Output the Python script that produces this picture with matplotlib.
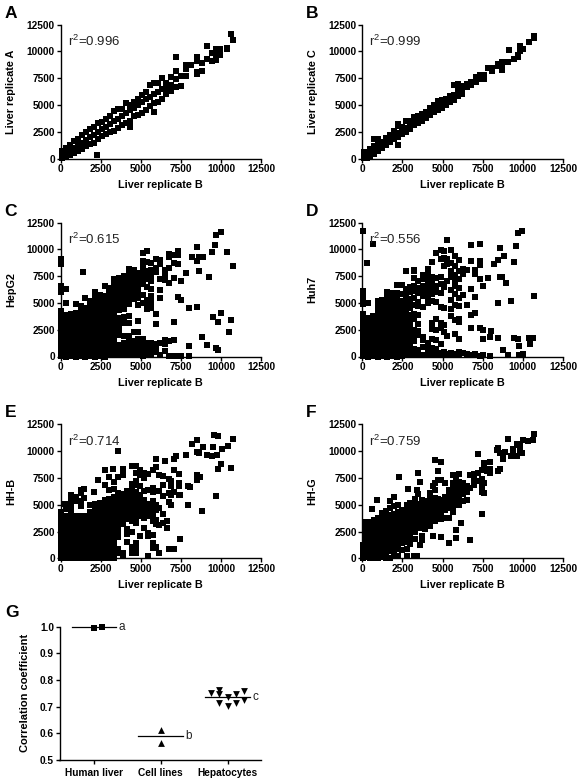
import matplotlib
matplotlib.use('Agg')
import matplotlib.pyplot as plt

plt.rcParams['font.family'] = ['Liberation Sans', 'DejaVu Sans']
plt.rcParams['mathtext.default'] = 'regular'

# values, as {liver B value: [other sample values]}
rep_a = {
    100: [100, 400, 700], 350: [150, 500, 1000], 600: [350, 750, 1300], 850: [550, 1000, 1650],
    1100: [750, 1250, 1850], 1350: [950, 1500, 2250], 1600: [1150, 1750, 2500], 1850: [1350, 2000, 2800],
    2100: [1500, 2200, 3000], 2250: [300], 2350: [1850, 2450, 3300], 2600: [2150, 2750, 3450],
    2850: [2300, 3000, 3700], 3100: [2450, 3250, 4000], 3350: [2550, 3500, 4450], 3600: [2900, 3700, 4600],
    3850: [3150, 3950, 4650], 4100: [3300, 4250, 5200], 4350: [3000, 3500, 4500, 5050], 4600: [3950, 4700, 5300],
    4850: [4100, 5000, 5600], 5100: [4300, 5250, 5900], 5350: [4500, 5550, 6200], 5600: [4900, 5800, 6850],
    5850: [4400, 5200, 6000, 7050], 6100: [5300, 6200, 7050], 6350: [5600, 6500, 7500], 6600: [6000, 6600, 7100],
    6900: [6300, 6900, 7600], 7200: [6700, 7400, 8200, 9500], 7500: [6800, 7700], 7800: [7700, 8400, 8700],
    8150: [8750], 8500: [7900, 8100, 9100, 9500], 8800: [8200, 8900], 9100: [9300, 10500], 9450: [9100, 9900],
    9700: [9200, 9700, 10200], 9950: [9700, 10200], 10400: [10200, 10300], 10650: [11600], 10750: [11100],
}
rep_c = {
    100: [50, 350, 650], 300: [100, 400], 500: [250, 600, 950], 750: [450, 800, 1150, 1800],
    1000: [700, 1100, 1550, 1800], 1250: [1000, 1350, 1600], 1500: [1300, 1600, 1900], 1750: [1600, 1950, 2200],
    2000: [1800, 2150, 2600], 2200: [1300, 2050, 2400, 3050, 3250], 2450: [2300, 2600, 2950], 2700: [2500, 2850, 3500],
    2950: [2800, 3100, 3500], 3200: [3100, 3400, 3900], 3450: [3300, 3600, 4000], 3700: [3500, 3850, 4150],
    3950: [3800, 4100, 4350], 4200: [4100, 4400, 4750], 4450: [4350, 4700, 5000], 4700: [4550, 4950, 5400],
    4950: [4750, 5100, 5500], 5200: [5000, 5350, 5600], 5450: [5300, 5600, 5850], 5700: [5500, 5900, 6900],
    5950: [5850, 6200, 6500, 6950], 6200: [6000, 6550, 6800], 6500: [6650, 6950], 6800: [6900, 7150],
    7100: [7200, 7600], 7300: [7400, 7800], 7550: [7400, 7800], 7850: [8450], 8100: [8200, 8500],
    8450: [8650, 8850], 8700: [8300, 8700, 9000], 9050: [9050], 9150: [10150], 9450: [9300],
    9700: [9450, 9700], 9800: [10000, 10500], 10000: [10200], 10400: [10900], 10700: [11300, 11400],
}
hepg2 = {
    50: [50, 350, 650, 950, 1250, 1550, 1850, 2150, 2450, 2750, 3050, 3350, 3650, 3950, 4250, 6000, 6600, 8600, 8850, 9050],
    350: [0, 300, 600, 900, 1200, 1500, 1800, 2100, 2400, 2700, 3000, 3300, 3600, 3900, 4950, 6300],
    650: [50, 350, 650, 950, 1250, 1550, 1850, 2150, 2450, 2750, 3050, 3350, 3650, 3950],
    950: [0, 300, 600, 900, 1200, 1500, 1800, 2100, 2400, 2700, 3000, 3300, 3600, 3900, 4100, 4900],
    1250: [50, 350, 650, 950, 1250, 1550, 1850, 2150, 2450, 2750, 3050, 3350, 3650, 3950, 4250, 4700],
    1400: [7850],
    1550: [0, 300, 600, 900, 1200, 1500, 1800, 2100, 2400, 2700, 3000, 3300, 3600, 3900, 4200, 4500, 5500],
    1850: [50, 350, 650, 950, 1250, 1550, 1850, 2150, 2450, 2750, 3050, 3350, 3650, 3950, 4250, 4550, 4800, 5200],
    2150: [0, 300, 600, 900, 1200, 1500, 1800, 2100, 2400, 2700, 3000, 3300, 3600, 3900, 4200, 4500, 4800, 5100, 5500, 6000],
    2450: [50, 350, 650, 950, 1250, 1550, 1850, 2150, 2450, 2750, 3050, 3350, 3650, 3950, 4250, 4550, 4850, 5300, 5700],
    2750: [0, 300, 600, 900, 1200, 1500, 1800, 2100, 2400, 2700, 3000, 3300, 3600, 3900, 4200, 4500, 4800, 5100, 5600, 6600],
    3050: [150, 450, 850, 1250, 1550, 1850, 2150, 2450, 2750, 3050, 3350, 3650, 3950, 4250, 4650, 5050, 5500, 6000, 6400],
    3350: [100, 500, 1000, 1500, 1900, 2300, 2700, 3100, 3500, 3900, 4300, 4700, 5100, 5500, 5900, 6300, 6800, 7200],
    3650: [200, 600, 1100, 2000, 2500, 3000, 3600, 4300, 4600, 5000, 5400, 5800, 6200, 6600, 7000, 7300],
    3950: [100, 500, 900, 1300, 1900, 3100, 3700, 4400, 4800, 5200, 5600, 6000, 6400, 6800, 7200, 7500],
    4250: [100, 500, 1000, 1400, 1900, 3100, 3800, 4900, 5300, 5700, 6100, 6500, 6900, 7300, 7700, 8200],
    4550: [100, 500, 900, 1400, 2300, 5400, 5800, 6200, 6600, 7000, 7400, 7800, 8100],
    4850: [100, 400, 800, 1200, 1600, 2300, 3300, 4800, 5500, 6000, 6500, 6900, 7300, 7800],
    5150: [50, 300, 700, 1100, 1600, 5000, 5700, 6800, 7300, 7900, 8400, 8900, 9700],
    5400: [200, 500, 900, 1300, 4400, 4800, 5300, 6500, 7200, 7700, 8000, 8800, 9800],
    5650: [100, 500, 900, 1300, 4500, 5100, 5600, 6300, 7000, 7500, 8100, 8700],
    5950: [400, 800, 1200, 2990, 3960, 7900, 8200, 8300, 9100],
    6200: [100, 1300, 5500, 6200, 7200, 8600, 9000],
    6500: [500, 1200, 1530, 7100, 7600, 8100],
    6750: [60, 1400, 6830, 8230, 9270, 9580], 7050: [60, 1530, 3240, 7300, 8700, 9480], 7300: [60, 5580, 8600, 9480, 9860],
    7500: [60, 5270, 7050], 7800: [7760], 8000: [60, 970, 4550], 8220: [9260], 8500: [4580, 8920, 10250],
    8650: [7950, 9260], 8830: [1840], 8900: [9320], 9120: [1060], 9280: [7450], 9430: [9730], 9490: [3710],
    9620: [10410], 9700: [750, 11350], 9780: [560], 9840: [3180], 10000: [4020, 11660], 10360: [9760],
    10470: [2280], 10650: [3370], 10740: [8450],
}
huh7 = {
    50: [50, 350, 650, 950, 1250, 1550, 1850, 2150, 2450, 2750, 3050, 3350, 3650, 3950, 4900, 5500, 5700, 6100, 11700],
    290: [8760],
    350: [0, 300, 600, 900, 1200, 1500, 1800, 2100, 2400, 2700, 3000, 3300, 3600, 4950],
    640: [10500],
    650: [50, 350, 650, 950, 1250, 1550, 1850, 2150, 2450, 2750, 3050, 3350, 3800],
    950: [0, 300, 600, 900, 1200, 1500, 1800, 2100, 2400, 2700, 3000, 3300, 3700, 4200, 4700, 5200],
    1250: [50, 350, 650, 950, 1250, 1550, 1850, 2150, 2450, 2750, 3050, 3350, 3650, 3950, 4400, 4900, 5300],
    1550: [0, 300, 600, 900, 1200, 1500, 1800, 2100, 2400, 2700, 3000, 3300, 3600, 3900, 4300, 4700, 5100, 5500, 6000],
    1850: [50, 350, 650, 950, 1250, 1550, 1850, 2150, 2450, 2750, 3050, 3350, 3650, 3950, 4250, 4650, 5050, 5500, 5900],
    2150: [0, 300, 600, 900, 1200, 1500, 1800, 2100, 2400, 2700, 3000, 3300, 3600, 3900, 4200, 4600, 5000, 5400, 5900, 6700],
    2450: [50, 350, 650, 950, 1250, 1550, 1850, 2150, 2450, 2750, 3050, 3350, 3650, 4000, 4400, 4800, 5200, 5800, 6700],
    2700: [100, 500, 900, 1300, 1700, 2100, 2500, 2900, 3300, 3700, 4200, 4700, 5200, 5700, 6300, 7950],
    3000: [100, 600, 1100, 1600, 2100, 2600, 3100, 3500, 3900, 4500, 5000, 5400, 6000, 6500],
    3250: [200, 700, 1400, 2000, 2500, 3500, 4000, 4800, 5500, 6100, 6600, 7300, 7950, 8100],
    3500: [100, 600, 2000, 2400, 3000, 3900, 4700, 5100, 5900, 6400, 7000],
    3800: [100, 900, 1500, 1800, 4600, 5600, 6100, 6600, 7200, 7600],
    4100: [100, 500, 1000, 1300, 5000, 5500, 6000, 6500, 7000, 7600, 8200],
    4350: [100, 400, 800, 1600, 2600, 3100, 5200, 5800, 6400, 6900, 7400, 8800],
    4600: [100, 300, 700, 1500, 2500, 3500, 5100, 6000, 6600, 7300, 9700],
    4900: [100, 300, 1200, 2700, 3100, 4600, 5900, 6800, 7400, 9100, 9900],
    5100: [100, 400, 2300, 2900, 4500, 6500, 8400, 9200, 9800],
    5250: [200, 1900, 7000, 8600, 9100, 10900],
    5500: [100, 300, 3800, 4400, 5300, 6200, 7400, 8000, 8700, 9900],
    5750: [200, 2100, 3400, 4800, 5800, 6600, 7100, 7600, 8400, 9400],
    6000: [100, 400, 1600, 3200, 3500, 4700, 5500, 6400, 7200, 8000, 9000],
    6250: [300, 5700, 7700, 8200],
    6500: [200, 4800, 8100],
    6750: [100, 2620, 6270, 8920, 3870, 10400],
    7050: [200, 4020, 5580, 7700, 8070], 7300: [50, 2680, 8950, 8540, 10470, 7200], 7500: [100, 1590, 2460, 6580],
    7810: [7300], 7950: [50, 1780], 8020: [2370], 8200: [8600], 8470: [1750, 4960, 9010], 8580: [7450, 10160],
    8700: [7390], 8780: [600], 8850: [9410], 8930: [6830], 9100: [120], 9260: [5170], 9450: [1750, 8790],
    9570: [10350], 9700: [1620, 11560], 9780: [120, 1000], 9930: [11720], 10030: [190], 10360: [1750],
    10440: [1150], 10650: [1680], 10710: [5640],
}
hh_b = {
    50: [50, 350, 650, 950, 1250, 1550, 1850, 2150, 2450, 2800, 3300, 3800, 4300],
    250: [5110],
    350: [0, 300, 600, 900, 1200, 1500, 1800, 2100, 2400, 2700, 3000, 3300, 3600, 3900, 4600],
    650: [50, 350, 650, 950, 1250, 1550, 1850, 2150, 2450, 2750, 3050, 3350, 3650, 3950, 4500, 5000, 5500, 5890],
    950: [0, 300, 600, 900, 1200, 1500, 1800, 2100, 2400, 2700, 3000, 3300, 3600, 3900, 5300, 5700],
    1250: [50, 350, 650, 950, 1250, 1550, 1850, 2150, 2450, 2750, 3050, 3350, 3650, 3950, 4900, 5300, 6110, 6350],
    1450: [5580, 6510],
    1550: [0, 300, 600, 900, 1200, 1500, 1800, 2100, 2400, 2700, 3000, 3300, 3600, 3900],
    1850: [50, 350, 650, 950, 1250, 1550, 1850, 2150, 2450, 2750, 3050, 3350, 3650, 3950, 4300, 4950],
    2100: [6140],
    2150: [0, 300, 600, 900, 1200, 1500, 1800, 2100, 2400, 2700, 3000, 3300, 3600, 3900, 4200, 4500, 4800, 5100],
    2350: [7290],
    2450: [50, 350, 650, 950, 1250, 1550, 1850, 2150, 2450, 2750, 3050, 3350, 3650, 3950, 4250, 4550, 4850, 5200],
    2750: [0, 300, 600, 900, 1200, 1500, 1800, 2100, 2400, 2700, 3000, 3300, 3600, 3900, 4200, 4500, 4800, 5100, 5400, 6800, 8220],
    3050: [50, 350, 650, 950, 1250, 1550, 1850, 2150, 2450, 2750, 3050, 3350, 3650, 3950, 4250, 4550, 4850, 5150, 5500, 6400, 7540],
    3250: [8310],
    3350: [0, 300, 700, 1100, 1500, 1900, 2300, 2700, 3100, 3500, 3900, 4200, 4500, 4800, 5100, 5400, 5700, 6500, 7100],
    3570: [500, 900, 2000, 2500, 2900, 3300, 3600, 3900, 4300, 4700, 5100, 5500, 5900, 6100, 7600, 9980],
    3900: [200, 500, 3200, 3600, 4000, 4400, 4800, 5200, 5600, 6000, 7750, 8370],
    4150: [1550, 2300, 2700, 3700, 4100, 4500, 4900, 5300, 5700, 6300],
    4450: [470, 1100, 2500, 3500, 3900, 4300, 4700, 5100, 5500, 5900, 6400, 6900, 8600],
    4700: [470, 1000, 1400, 3300, 3800, 4200, 4600, 5000, 5400, 5800, 6200, 6800, 7200, 8000, 8600],
    4950: [2100, 3900, 4300, 4700, 5100, 5500, 5900, 6700, 7800, 8250],
    5170: [2790, 3800, 4200, 4600, 5000, 5400, 6300, 7500, 7950],
    5480: [220, 2400, 2100, 3900, 4300, 4700, 5100, 6400, 7900],
    5790: [1000, 1400, 2170, 3500, 4000, 4400, 4800, 5300, 6200, 6600, 8200],
    5940: [1100, 3200, 3600, 4500, 5000, 8500, 9300],
    6150: [470, 3100, 4700, 6300, 7800],
    6370: [3300, 4090, 5800, 6800, 7700],
    6480: [9050],
    6620: [2790, 3500],
    6730: [870, 5210, 6050, 7440],
    6900: [6750, 7200, 4960, 5900],
    7080: [840, 6200, 8200, 9240], 7180: [9520], 7350: [5900, 6700, 7000, 7850], 7450: [1800, 5950],
    7810: [9670], 7970: [4960, 6760], 8080: [6670], 8220: [10640], 8490: [9920, 11010], 8530: [7290, 7750],
    8640: [9860], 8700: [7540], 8830: [4400], 8870: [10390], 9120: [9610], 9430: [9550], 9490: [10390],
    9570: [11470], 9700: [5830], 9740: [9670], 9780: [11410], 9840: [8310], 9990: [8780], 10050: [10230],
    10420: [10480], 10650: [8470], 10740: [11160],
}
hh_g = {
    50: [50, 350, 650, 950, 1250],
    250: [100, 400, 700, 1000, 1300, 1600, 1900, 2200, 2500, 2800, 3350],
    500: [0, 300, 600, 900, 1200, 1500, 1800, 2100, 2400, 2700, 3000, 3400],
    620: [4560],
    750: [50, 350, 650, 950, 1250, 1550, 1850, 2150, 2450, 2750, 3050, 3600],
    930: [5430],
    1000: [0, 300, 600, 900, 1200, 1500, 1800, 2100, 2400, 2700, 3000, 3400, 3800],
    1250: [100, 400, 700, 1000, 1300, 1600, 1900, 2200, 2500, 2800, 3100, 3400, 3800, 4200],
    1500: [50, 350, 650, 950, 1250, 1550, 1850, 2150, 2450, 2750, 3050, 3350, 3650, 4000, 4400],
    1700: [5330, 4700],
    1750: [0, 700, 1000, 1300, 1600, 1900, 2200, 2500, 2800, 3100, 3400, 3700, 4000],
    2000: [200, 800, 1100, 1400, 1700, 2000, 2300, 2600, 2900, 3200, 3500, 3800, 4100, 4900, 5740],
    2240: [190, 900, 1300, 1600, 1900, 2200, 2500, 2800, 3100, 3400, 3700, 4000, 4300, 5000],
    2300: [7540],
    2500: [800, 1400, 1800, 2100, 2400, 2700, 3000, 3300, 3600, 3900, 4200, 4500],
    2760: [190, 900, 1500, 2000, 2400, 2700, 3000, 3300, 3600, 3900, 4200, 4500, 4900, 5000],
    2870: [6510],
    3000: [1300, 1900, 2300, 2700, 3000, 3300, 3600, 3900, 4200, 4500, 4800, 5200],
    3220: [190], 3380: [190, 6360],
    3300: [1800, 2500, 2900, 3200, 3500, 3800, 4100, 4400, 4700, 5000, 5500],
    3450: [7970, 6000],
    3590: [1240, 2800, 3300, 3600, 3900, 4200, 4500, 4800, 5100, 7130],
    3700: [1700, 2100, 5400],
    3900: [2700, 3200, 3500, 3800, 4100, 4400, 4700, 5000, 5300],
    4200: [3000, 3500, 3900, 4200, 4500, 4800, 5100, 5400, 5700, 6100],
    4380: [2050, 6700],
    4500: [3500, 4000, 4400, 4700, 5000, 5300, 5600, 6400, 7000, 9150],
    4730: [4000, 4300, 4600, 4900, 5200, 5500, 7300, 8160],
    4900: [1950, 3700, 4200, 4500, 4800, 5100, 5400, 7300, 8990],
    5150: [3800, 4500, 4800, 5100, 5400, 5700, 7000],
    5400: [1460, 3800, 4700, 5000, 5300, 5600, 6000, 6400],
    5650: [4300, 4800, 5100, 5400, 5700, 6000, 6600, 7000, 7800],
    5810: [1860, 2640, 6300, 7400],
    6000: [5000, 5400, 5700, 6000, 6400, 6800, 7100, 7900],
    6130: [3260],
    6300: [5300, 6000, 6600, 7000],
    6500: [5400, 6200, 6700],
    6710: [1700, 6600, 7800],
    6950: [6800, 7300, 7900], 7180: [7200, 8000, 9770], 7430: [4120, 6200, 6700, 7400, 8200], 7580: [6050, 7000, 8400, 8850],
    7750: [8100], 7950: [8000, 8370, 8990, 8300], 8370: [10140], 8470: [8100, 10330], 8580: [8310, 9800],
    8780: [9300, 9800], 8890: [9920], 9090: [11160], 9240: [9520], 9410: [9670, 10200], 9610: [9500, 10540, 10650],
    9800: [9860, 10400, 10700], 9970: [9860], 10030: [11000], 10340: [10950], 10650: [11000], 10710: [11630],
}

scatter_ticks = [0, 2500, 5000, 7500, 10000, 12500]

corr_labels = ['Human liver', 'Cell lines', 'Hepatocytes']
liver_x = [1.0, 1.125]
liver_r = [0.996, 0.999]
cell_x = [2.0, 2.0]
cell_r = [0.613, 0.564]
hep_x = [2.76, 2.88, 2.88, 2.88, 3.0, 3.0, 3.12, 3.12, 3.24, 3.24]
hep_r = [0.750, 0.763, 0.746, 0.715, 0.736, 0.704, 0.748, 0.715, 0.760, 0.725]
group_means = [0.998, 0.59, 0.735]
group_letters = ['a', 'b', 'c']

W, H = 581, 781
fig = plt.figure(figsize=(W / 100, H / 100), dpi=100)


def make_axes(left, right, top, bottom):
    ax = fig.add_axes([left / W, 1 - bottom / H, (right - left) / W, (bottom - top) / H])
    ax.spines['top'].set_visible(False)
    ax.spines['right'].set_visible(False)
    ax.spines['left'].set_linewidth(1.0)
    ax.spines['bottom'].set_linewidth(1.0)
    ax.tick_params(width=1.0, length=3, pad=1, labelsize=7.3)
    return ax


def scatter_panel(left, top, cols, ylabel, rsq, letter):
    bottom = top + 134
    ax = make_axes(left, left + 200.7, top, bottom)
    xs = [x for x, ys in cols.items() for _ in ys]
    ys = [y for col in cols.values() for y in col]
    ax.scatter(xs, ys, marker='s', s=18, color='black', linewidths=0, clip_on=False, zorder=3)
    ax.set_xlim(0, 12500)
    ax.set_ylim(0, 12500)
    ax.set_xticks(scatter_ticks)
    ax.set_yticks(scatter_ticks)
    for lab in ax.get_xticklabels() + ax.get_yticklabels():
        lab.set_fontweight('bold')
    ax.set_xlabel('Liver replicate B', fontsize=7.8, fontweight='bold')
    ax.set_ylabel(ylabel, fontsize=7.8, fontweight='bold')
    ax.xaxis.set_label_coords(0.5, -0.16)
    ax.yaxis.set_label_coords(-0.222, 0.5)
    ax.text(0.035, 0.875, 'r$^{2}$=' + rsq, transform=ax.transAxes, fontsize=9.5, color='#222222', va='center', zorder=4)
    fig.text((left - 56) / W, 1 - (top - 7) / H, letter, fontsize=12.5, fontweight='bold', ha='left', va='baseline')
    return ax


scatter_panel(60.5, 24.7, rep_a, 'Liver replicate A', '0.996', 'A')
scatter_panel(362.3, 24.7, rep_c, 'Liver replicate C', '0.999', 'B')
scatter_panel(60.5, 222.5, hepg2, 'HepG2', '0.615', 'C')
scatter_panel(362.3, 222.5, huh7, 'Huh7', '0.556', 'D')
scatter_panel(60.5, 424.3, hh_b, 'HH-B', '0.714', 'E')
scatter_panel(362.3, 424.3, hh_g, 'HH-G', '0.759', 'F')

# panel G
ax = make_axes(59.5, 261, 626.7, 760)
ax.scatter(liver_x, liver_r, marker='s', s=13, color='black', linewidths=0, clip_on=False, zorder=3)
ax.scatter(cell_x, cell_r, marker='^', s=24, color='black', linewidths=0, clip_on=False, zorder=3)
ax.scatter(hep_x, hep_r, marker='v', s=24, color='black', linewidths=0, clip_on=False, zorder=3)
for i, m in enumerate(group_means):
    ax.plot([i + 1 - 0.33, i + 1 + 0.33], [m, m], color='black', lw=0.9, clip_on=False)
    ax.text(i + 1 + 0.37, m, group_letters[i], fontsize=8.5, color='#222222', va='center', ha='left')
ax.set_xlim(0.49, 3.5)
ax.set_ylim(0.5, 1.0)
ax.set_xticks([1, 2, 3])
ax.set_xticklabels(corr_labels, fontweight='bold', fontsize=7.3)
ax.set_yticks([0.5, 0.6, 0.7, 0.8, 0.9, 1.0])
ax.set_yticklabels(['0.5', '0.6', '0.7', '0.8', '0.9', '1.0'], fontweight='bold', fontsize=7.3)
ax.tick_params(axis='x', pad=2.5)
ax.set_ylabel('Correlation coefficient', fontsize=8, fontweight='bold')
ax.yaxis.set_label_coords(-0.146, 0.5)
fig.text(5 / W, 1 - 617 / H, 'G', fontsize=12.5, fontweight='bold', ha='left', va='baseline')

fig.savefig('out.png', dpi=100)
